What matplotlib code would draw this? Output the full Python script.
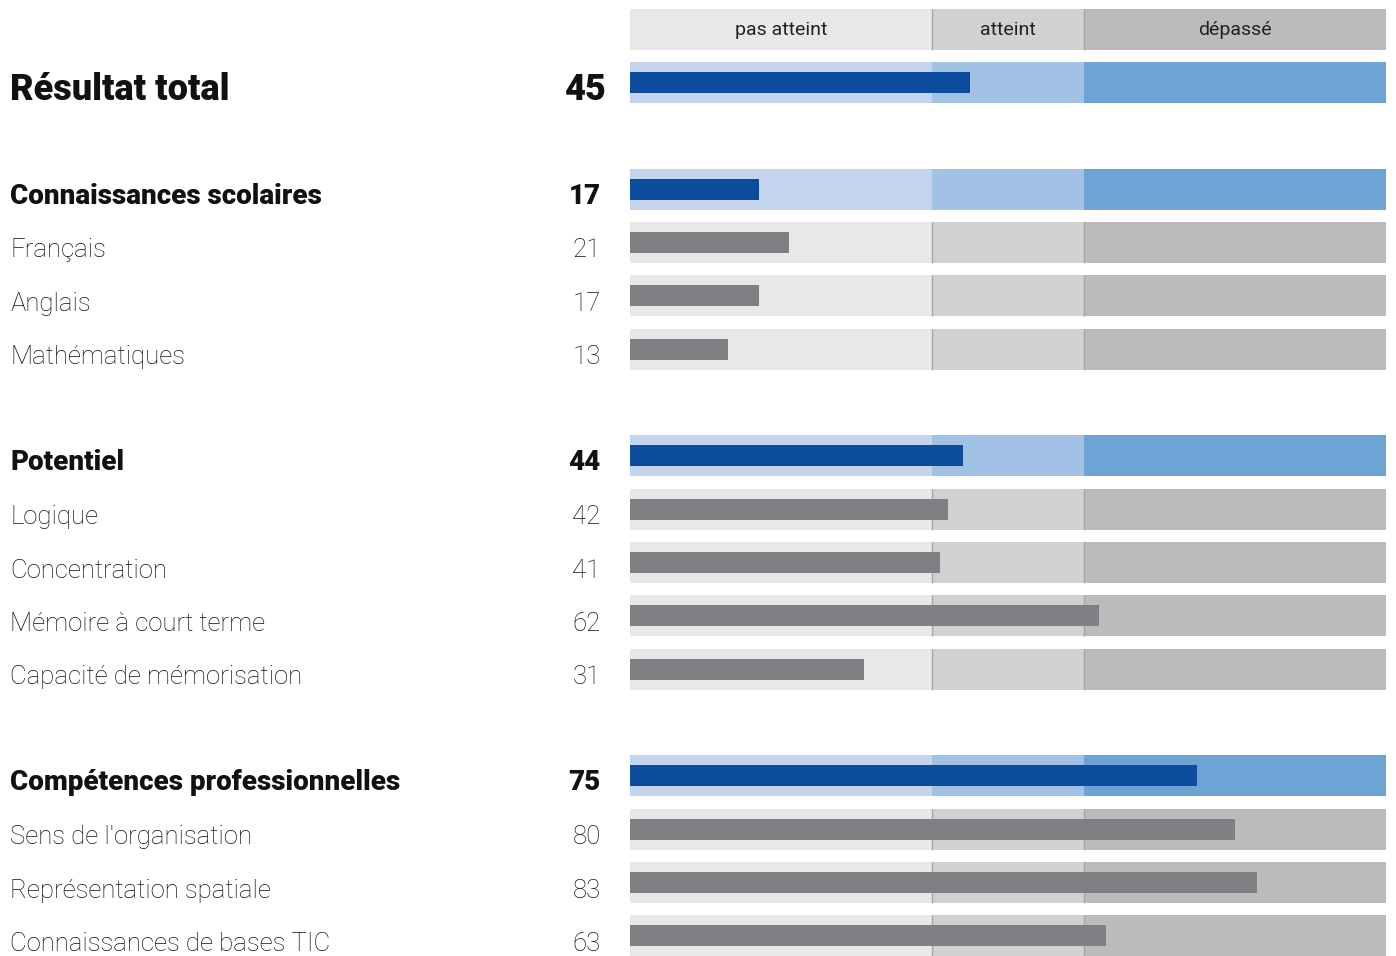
import matplotlib.pyplot as plt
from matplotlib.patches import Rectangle

labels = ["Résultat total",
          "Connaissances scolaires", "Français", "Anglais", "Mathématiques",
          "Potentiel", "Logique", "Concentration", "Mémoire à court terme",
          "Capacité de mémorisation",
          "Compétences professionnelles", "Sens de l'organisation",
          "Représentation spatiale", "Connaissances de bases TIC"]
scores = [45, 17, 21, 17, 13, 44, 42, 41, 62, 31, 75, 80, 83, 63]
is_total = [True, True, False, False, False, True, False, False, False, False,
            True, False, False, False]
slots = [1, 3, 4, 5, 6, 8, 9, 10, 11, 12, 14, 15, 16, 17]

zone_names = ["pas atteint", "atteint", "dépassé"]
zone_edges = [0, 40, 60, 100]

grey_bands = ["#e8e8e8", "#d1d1d1", "#bbbbbb"]
blue_bands = ["#c5d4ee", "#a1c1e5", "#6ea4d5"]
blue_bar = "#0c4c9c"
grey_bar = "#808084"
sep_color = "#a6a6a6"

W, H = 1396, 956
fig = plt.figure(figsize=(W / 100, H / 100), dpi=100)
step = 53.35
ax = fig.add_axes([630 / W, 0, 756 / W, 1])
ax.set_xlim(0, 100)
ax.set_ylim((H - 29) / step, -29 / step)
ax.axis("off")

band_h = 41 / step
bar_h = 21 / step
font = "Roboto"


def draw_band(y, colors, lines):
    for i in range(3):
        x0, x1 = zone_edges[i], zone_edges[i + 1]
        ax.add_patch(Rectangle((x0, y - band_h / 2), x1 - x0, band_h,
                               facecolor=colors[i], edgecolor="none", zorder=1))
    if lines:
        for x in zone_edges[1:3]:
            ax.plot([x, x], [y - band_h / 2, y + band_h / 2], color=sep_color,
                    lw=1.0, zorder=2, solid_capstyle="butt")


# header
draw_band(0, grey_bands, True)
for i, name in enumerate(zone_names):
    xc = (zone_edges[i] + zone_edges[i + 1]) / 2
    ax.text(xc, 0.02, name, ha="center", va="center", fontsize=14,
            family=font, color="#222222", zorder=3)

for lab, val, tot, y in zip(labels, scores, is_total, slots):
    draw_band(y, blue_bands if tot else grey_bands, not tot)
    ax.barh(y, val, height=bar_h, color=blue_bar if tot else grey_bar,
            zorder=3)
    if lab == "Résultat total":
        size, weight, dy = 26, "black", 8
    elif tot:
        size, weight, dy = 20, "black", 7
    else:
        size, weight, dy = 18.5, "light", 8
    ty = y + dy / step
    ax.text(-82.0, ty, lab, ha="left", va="center", fontsize=size,
            fontweight=weight, family=font, color="#111111", clip_on=False)
    ax.text(-3.9 if lab != "Résultat total" else -3.1, ty, str(val),
            ha="right", va="center", fontsize=size, fontweight=weight,
            family=font, color="#111111", clip_on=False)

fig.savefig("out.png", dpi=100)
